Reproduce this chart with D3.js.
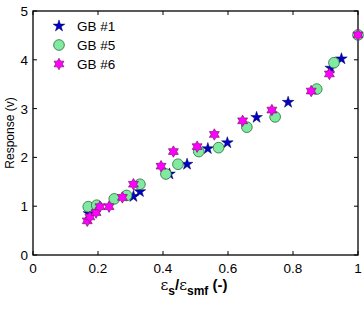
<!DOCTYPE html>
<html>
<head>
<meta charset="utf-8">
<script src="https://cdn.jsdelivr.net/npm/d3@7"></script>
<style>
  body { margin: 0; background: #fff; }
  svg text { font-family: "Liberation Sans", Arial, sans-serif; }
</style>
</head>
<body>
<div id="chart"></div>
<script>
// data
const gb1 = [
  [0.172, 0.85], [0.309, 1.20], [0.329, 1.30], [0.42, 1.66], [0.474, 1.86],
  [0.538, 2.18], [0.598, 2.30], [0.688, 2.82], [0.785, 3.13], [0.916, 3.83], [0.949, 4.02]
];
const gb5 = [
  [0.170, 0.99], [0.196, 1.02], [0.250, 1.15], [0.288, 1.22], [0.329, 1.45],
  [0.409, 1.66], [0.446, 1.86], [0.510, 2.12], [0.571, 2.20], [0.658, 2.62],
  [0.745, 2.83], [0.873, 3.40], [0.926, 3.94], [1.0, 4.51]
];
const gb6 = [
  [0.167, 0.70], [0.175, 0.78], [0.194, 0.87], [0.206, 0.99], [0.234, 0.99],
  [0.275, 1.18], [0.309, 1.45], [0.394, 1.82], [0.432, 2.12], [0.505, 2.22],
  [0.558, 2.47], [0.645, 2.75], [0.735, 2.97], [0.856, 3.36], [0.912, 3.71], [1.0, 4.51]
];
const seriesNames = ["GB #1", "GB #5", "GB #6"];
const xTicks = [0, 0.2, 0.4, 0.6, 0.8, 1];
const xTickLabels = ["0", "0.2", "0.4", "0.6", "0.8", "1"];
const yTicks = [0, 1, 2, 3, 4, 5];

const W = 364, H = 309;
const m = {left: 33, right: 6, top: 11, bottom: 54};

const svg = d3.select("#chart").append("svg").attr("width", W).attr("height", H);

const x = d3.scaleLinear().domain([0, 1]).range([m.left, W - m.right]);
const y = d3.scaleLinear().domain([0, 5]).range([H - m.bottom, m.top]);

// hexagram for GB #6
const hexagram = {
  draw(ctx, size) {
    const r = Math.sqrt(size) * 0.62, ri = r * 0.58;
    for (let i = 0; i < 12; i++) {
      const a = Math.PI / 6 * i - Math.PI / 2;
      const rr = i % 2 ? ri : r;
      if (i === 0) ctx.moveTo(rr * Math.cos(a), rr * Math.sin(a));
      else ctx.lineTo(rr * Math.cos(a), rr * Math.sin(a));
    }
    ctx.closePath();
  }
};

const styles = [
  {type: d3.symbolStar, size: 42, fill: "#0000c8", stroke: "#000050", sw: 0.5},
  {type: d3.symbolCircle, size: 90, fill: "#80eba0", stroke: "#2a6a3a", sw: 0.8},
  {type: hexagram, size: 85, fill: "#ff00ff", stroke: "#7a1a6a", sw: 0.7}
];

// axes box + ticks (inward, all four sides)
const axisG = svg.append("g");
axisG.append("rect")
  .attr("x", x(0)).attr("y", y(5))
  .attr("width", x(1) - x(0)).attr("height", y(0) - y(5))
  .attr("fill", "none").attr("stroke", "#000").attr("stroke-width", 1.3);

xTicks.forEach(function (t, i) {
  axisG.append("line").attr("x1", x(t)).attr("x2", x(t)).attr("y1", y(0)).attr("y2", y(0) - 4).attr("stroke", "#000");
  axisG.append("line").attr("x1", x(t)).attr("x2", x(t)).attr("y1", y(5)).attr("y2", y(5) + 4).attr("stroke", "#000");
  axisG.append("text").attr("x", x(t)).attr("y", y(0) + 18)
    .attr("text-anchor", "middle").style("font-size", "13.5px").text(xTickLabels[i]);
});
yTicks.forEach(function (t) {
  axisG.append("line").attr("x1", x(0)).attr("x2", x(0) + 4).attr("y1", y(t)).attr("y2", y(t)).attr("stroke", "#000");
  axisG.append("line").attr("x1", x(1)).attr("x2", x(1) - 4).attr("y1", y(t)).attr("y2", y(t)).attr("stroke", "#000");
  axisG.append("text").attr("x", x(0) - 5).attr("y", y(t) + 5)
    .attr("text-anchor", "end").style("font-size", "13.5px").text(t);
});

// points
[gb1, gb5, gb6].forEach(function (data, k) {
  const s = styles[k];
  svg.append("g").selectAll("path").data(data).join("path")
    .attr("transform", d => `translate(${x(d[0])},${y(d[1])})`)
    .attr("d", d3.symbol().type(s.type).size(s.size))
    .attr("fill", s.fill).attr("stroke", s.stroke).attr("stroke-width", s.sw);
});

// legend
seriesNames.forEach(function (name, k) {
  const s = styles[k];
  const ly = 26 + k * 19;
  svg.append("path").attr("transform", `translate(59,${ly})`)
    .attr("d", d3.symbol().type(s.type).size(s.size))
    .attr("fill", s.fill).attr("stroke", s.stroke).attr("stroke-width", s.sw);
  svg.append("text").attr("x", 77).attr("y", ly + 5).style("font-size", "13.5px").text(name);
});

// axis labels
svg.append("text")
  .attr("transform", `translate(14,${(y(0) + y(5)) / 2}) rotate(-90)`)
  .attr("text-anchor", "middle").style("font-size", "12px").text("Response (v)");

const xl = svg.append("text").attr("x", 194).attr("y", 290)
  .attr("text-anchor", "middle").style("font-size", "15px").style("font-weight", "bold");
xl.append("tspan").style("font-family", "DejaVu Serif").style("font-weight", "normal").text("ε");
xl.append("tspan").attr("dy", 5).style("font-size", "12px").text("s");
xl.append("tspan").attr("dy", -5).text("/");
xl.append("tspan").style("font-family", "DejaVu Serif").style("font-weight", "normal").text("ε");
xl.append("tspan").attr("dy", 5).style("font-size", "12px").text("smf");
xl.append("tspan").attr("dy", -5).text(" (-)");
</script>
</body>
</html>
